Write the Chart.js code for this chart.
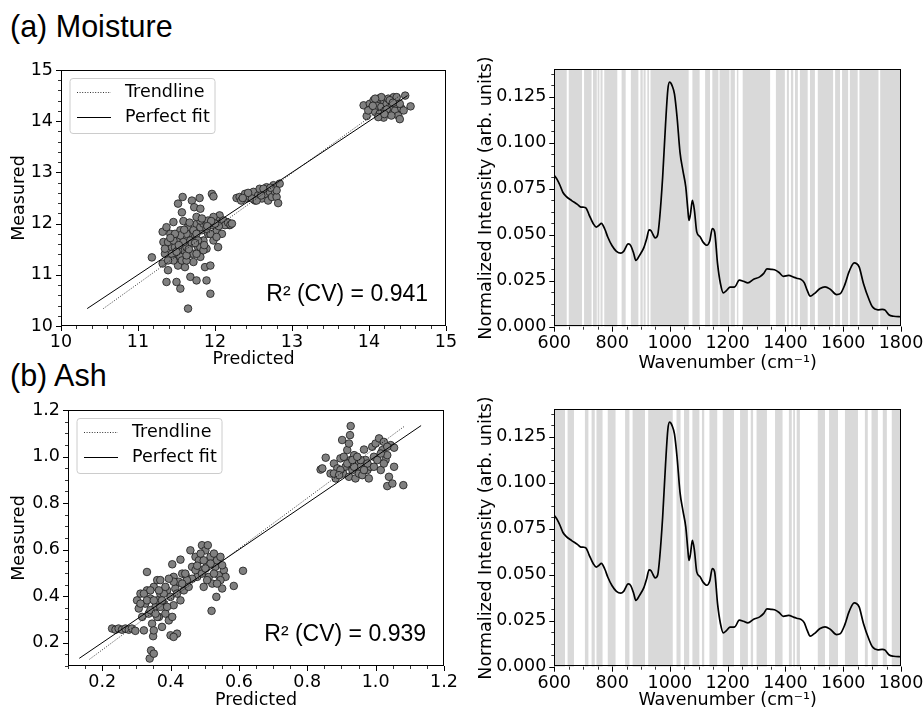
<!DOCTYPE html>
<html>
<head>
<meta charset="utf-8">
<script src="https://cdn.jsdelivr.net/npm/chart.js@4.4.1/dist/chart.umd.min.js"></script>
<style>
  body { margin: 0; background: #fff; width: 923px; height: 711px; position: relative; overflow: hidden; }
  .panel-title { position: absolute; font-family: "Liberation Sans", Arial, sans-serif; font-size: 30.5px; line-height: 1; color: #000; white-space: nowrap; }
  canvas { position: absolute; }
</style>
</head>
<body>
<div class="panel-title" style="left:10px; top:10.5px;">(a) Moisture</div>
<div class="panel-title" style="left:10px; top:360px;">(b) Ash</div>

<canvas id="scatterA" width="476" height="330" style="left:0px; top:40px;"></canvas>
<canvas id="spectrumA" width="471" height="335" style="left:460px; top:39px;"></canvas>
<canvas id="scatterB" width="474" height="331" style="left:0px; top:380px;"></canvas>
<canvas id="spectrumB" width="471" height="332" style="left:460px; top:379px;"></canvas>

<script>
// --- data ---

// (a) moisture: [predicted, measured]
const moisturePts = [
  [13.93,14.31],[13.97,14.10],[14.01,14.34],[14.03,14.24],[14.06,14.41],[14.08,14.18],[14.10,14.31],[14.12,14.44],
  [14.14,14.15],[14.16,14.28],[14.19,14.41],[14.19,14.07],[14.21,14.21],[14.23,14.34],[14.25,14.44],[14.27,14.15],
  [14.29,14.28],[14.32,14.47],[14.34,14.21],[14.36,14.34],[14.38,14.11],[14.40,14.04],[14.42,14.25],[14.45,14.21],
  [14.47,14.50],[14.54,14.29],[13.99,14.21],[14.12,14.08],[14.23,14.23],[14.29,14.11],[14.16,14.47],[14.27,14.41],
  [14.08,14.44],[14.36,14.47],[14.40,14.34],[14.05,14.30],[14.20,14.14],[14.31,14.36],
  [12.28,12.50],[12.32,12.52],[12.39,12.58],[12.41,12.49],[12.45,12.52],[12.50,12.62],[12.52,12.45],[12.56,12.55],
  [12.58,12.68],[12.61,12.49],[12.65,12.58],[12.67,12.71],[12.69,12.45],[12.71,12.62],[12.74,12.52],[12.76,12.75],
  [12.78,12.62],[12.80,12.52],[12.82,12.40],[12.84,12.78],[12.80,12.65],[12.48,12.49],[12.54,12.45],[12.63,12.68],
  [12.34,12.45],[12.43,12.60],[12.60,12.55],[12.72,12.70],[12.36,12.50],
  [11.18,11.34],[11.32,11.22],[11.32,11.84],[11.33,11.64],[11.35,11.41],[11.37,10.86],[11.39,11.09],[11.37,11.93],
  [11.42,11.80],[11.44,11.54],[11.46,12.03],[11.48,11.32],[11.50,10.86],[11.50,11.67],[11.52,11.18],[11.52,12.39],
  [11.55,10.73],[11.55,11.87],[11.57,12.22],[11.58,12.52],[11.58,11.48],[11.59,12.05],[11.61,11.15],[11.61,11.70],
  [11.63,11.54],[11.65,10.34],[11.65,11.93],[11.68,10.96],[11.68,11.41],[11.70,12.45],[11.70,11.80],[11.72,11.25],
  [11.73,12.32],[11.74,11.74],[11.76,10.89],[11.76,11.99],[11.78,11.54],[11.80,12.50],[11.81,12.29],[11.81,11.35],
  [11.83,11.87],[11.85,11.67],[11.87,12.05],[11.87,11.15],[11.89,10.89],[11.89,11.51],[11.91,11.80],[11.94,10.63],
  [11.94,11.18],[11.94,11.99],[11.96,12.58],[11.98,12.53],[11.98,11.67],[12.00,12.05],[12.02,11.87],[12.04,11.54],
  [12.06,12.16],[12.09,11.80],[12.11,11.99],[12.15,12.03],[12.19,11.97],
  [11.35,11.51],[11.39,11.64],[11.44,11.41],[11.48,11.54],[11.52,11.48],[11.55,11.35],[11.59,11.64],[11.63,11.80],
  [11.68,11.67],[11.72,11.87],[11.76,11.80],[11.81,11.93],[11.85,12.00],[11.89,12.00],[11.91,12.06],[11.96,11.97],
  [12.02,12.06],[12.06,12.00],[11.46,11.28],[11.57,11.28],[11.72,11.41],[11.81,11.54],[11.85,11.48],[11.46,11.67],
  [11.39,11.28],[11.63,11.28],[11.78,11.67],[11.94,11.80],[12.02,11.74],[11.63,11.38],[11.76,11.41],[11.70,11.61],
  [11.55,11.77],[11.48,11.80],[11.89,11.90],[11.81,12.06],[11.76,12.13],[11.83,12.10],[11.98,12.13],[12.11,12.06],
  [12.13,11.97],[12.17,12.02],[12.20,11.98],[12.22,12.00],[12.05,11.95],[12.00,12.00],[11.95,12.05],[11.90,11.95],
  [11.42,11.72],[11.50,11.45],[11.66,11.50],[11.74,11.62],[11.86,11.58],[11.53,11.58],[11.60,11.88],[11.67,12.02]
];
const moisturePerfect = [[10.34,10.34],[14.50,14.50]];
const moistureTrend = [[10.55,10.34],[14.40,14.50]];
const moistureTicks = [10, 11, 12, 13, 14, 15];
const moistureR2 = 'R² (CV) = 0.941';

// (b) ash: [predicted, measured]
const ashPts = [
  [0.839,0.944],[0.844,0.949],[0.854,0.995],[0.868,0.927],[0.878,0.970],[0.883,0.906],[0.888,0.949],[0.897,0.992],
  [0.902,1.071],[0.905,0.927],[0.912,0.956],[0.917,1.028],[0.922,1.056],[0.922,0.913],[0.925,1.092],[0.927,1.131],
  [0.927,0.985],[0.932,0.942],[0.937,1.006],[0.941,0.906],[0.946,0.970],[0.951,0.927],[0.956,0.956],[0.961,0.920],
  [0.966,1.030],[0.971,0.985],[0.976,0.942],[0.980,0.906],[0.985,0.956],[0.990,1.042],[0.995,0.999],[1.000,1.056],
  [1.005,0.985],[1.010,1.078],[1.015,0.942],[1.020,1.028],[1.024,1.063],[1.029,0.985],[1.034,1.006],[1.034,0.873],
  [1.039,0.913],[1.044,1.049],[1.049,0.884],[1.054,1.038],[1.054,0.956],[1.081,0.877],
  [0.878,0.927],[0.897,0.942],[0.917,0.970],[0.937,0.956],[0.956,0.985],[0.976,0.970],[0.995,0.956],[1.015,1.013],
  [1.024,0.970],[0.907,0.999],[0.932,0.985],[0.946,0.999],[0.893,0.920],[0.966,0.942],[1.034,1.042],
  [0.405,0.537],[0.429,0.557],[0.444,0.490],[0.458,0.597],[0.463,0.526],[0.473,0.569],[0.478,0.483],[0.483,0.554],
  [0.488,0.512],[0.492,0.619],[0.497,0.440],[0.502,0.597],[0.507,0.533],[0.509,0.619],[0.512,0.483],[0.517,0.569],
  [0.520,0.337],[0.522,0.454],[0.527,0.583],[0.531,0.526],[0.534,0.397],[0.536,0.554],[0.541,0.490],[0.546,0.569],
  [0.551,0.433],[0.556,0.512],[0.561,0.483],[0.585,0.444],[0.612,0.509],
  [0.497,0.554],[0.488,0.583],[0.473,0.512],[0.527,0.497],[0.507,0.469],[0.546,0.469],[0.536,0.454],[0.463,0.475],
  [0.478,0.531],[0.517,0.540],[0.492,0.497],[0.551,0.533],[0.502,0.519],
  [0.229,0.261],[0.239,0.256],[0.248,0.261],[0.258,0.256],[0.268,0.261],[0.278,0.256],[0.287,0.261],[0.297,0.251],
  [0.302,0.382],[0.307,0.347],[0.312,0.411],[0.317,0.311],[0.322,0.253],[0.326,0.368],[0.331,0.504],[0.331,0.425],
  [0.336,0.325],[0.339,0.132],[0.341,0.390],[0.343,0.167],[0.346,0.282],[0.349,0.228],[0.351,0.153],[0.351,0.440],
  [0.356,0.354],[0.361,0.469],[0.366,0.311],[0.370,0.411],[0.375,0.268],[0.380,0.368],[0.385,0.325],[0.390,0.425],
  [0.395,0.296],[0.400,0.397],[0.405,0.311],[0.409,0.361],[0.409,0.483],[0.414,0.433],[0.419,0.239],[0.424,0.462],
  [0.429,0.382],[0.434,0.497],[0.439,0.425],[0.448,0.469],[0.400,0.232],[0.409,0.225],[0.370,0.469],[0.361,0.311],
  [0.351,0.253],
  [0.322,0.411],[0.331,0.382],[0.341,0.340],[0.361,0.382],[0.370,0.354],[0.380,0.411],[0.390,0.354],[0.351,0.382],
  [0.366,0.425],[0.341,0.425],[0.312,0.368],[0.356,0.325],[0.375,0.382],[0.385,0.440],[0.419,0.411],[0.434,0.454],
  [0.443,0.497],[0.409,0.462],[0.395,0.475],[0.453,0.440]
];
const ashPerfect = [[0.133,0.133],[1.133,1.133]];
const ashTrend = [[0.163,0.129],[1.085,1.131]];
const ashTicks = [0.2, 0.4, 0.6, 0.8, 1.0, 1.2];
const ashR2 = 'R² (CV) = 0.939';

// mean spectrum (same in both rows)
const wavenumber = [600,610,620,630,640,660,680,690,700,710,720,735,745,755,763,775,785,800,815,830,840,856,865,875,882,895,
  910,920,928,935,942,949,958,965,975,985,993,999,1008,1016,1025,1035,1045,1055,1062,1066,1071,1078,1085,1093,1105,1115,
  1128,1138,1147,1155,1165,1175,1185,1195,1208,1225,1240,1255,1270,1290,1311,1325,1336,1350,1362,1378,1393,1411,1430,
  1443,1454,1465,1475,1486,1500,1520,1537,1555,1577,1590,1605,1620,1638,1655,1670,1690,1701,1720,1735,1745,1758,1775,1800];
const intensity = [0.0822,0.0800,0.0768,0.0730,0.0710,0.0686,0.0665,0.0652,0.0650,0.0645,0.0610,0.0560,0.0542,0.0552,0.0562,
  0.0530,0.0488,0.0440,0.0410,0.0400,0.0410,0.0450,0.0440,0.0397,0.0361,0.0388,0.0430,0.0480,0.0527,0.0522,0.0500,0.0483,
  0.0500,0.0596,0.0813,0.1100,0.1290,0.1330,0.1310,0.1265,0.1138,0.0950,0.0850,0.0760,0.0640,0.0578,0.0610,0.0687,0.0632,
  0.0516,0.0488,0.0460,0.0443,0.0466,0.0534,0.0515,0.0343,0.0235,0.0184,0.0195,0.0215,0.0217,0.0253,0.0247,0.0238,0.0258,
  0.0271,0.0290,0.0314,0.0312,0.0310,0.0295,0.0274,0.0279,0.0268,0.0262,0.0257,0.0240,0.0199,0.0166,0.0180,0.0208,0.0217,
  0.0204,0.0175,0.0180,0.0226,0.0298,0.0347,0.0325,0.0235,0.0145,0.0108,0.0092,0.0094,0.0090,0.0065,0.0057,0.0054];
const wnTicks = [600, 800, 1000, 1200, 1400, 1600, 1800];
const intensityTicks = [0, 0.025, 0.05, 0.075, 0.1, 0.125];

// unselected (white) windows between the grey selected variables
const gapsMoisture = [[643,650],[696,703],[729,734],[747,750],[756,760],[767,773],[818,833],[847,865],[891,898],[906,909],
  [916,922],[928,933],[1065,1078],[1103,1122],[1139,1147],[1168,1172],[1206,1210],[1225,1232],[1237,1252],[1347,1367],
  [1398,1405],[1412,1419],[1427,1433],[1443,1450],[1477,1485],[1502,1512],[1565,1572],[1589,1596],[1617,1623],[1650,1656],
  [1722,1728]];
const gapsAsh = [[637,646],[668,706],[718,729],[740,746],[767,785],[812,845],[860,871],[914,925],[1010,1023],[1037,1049],
  [1067,1078],[1102,1111],[1119,1137],[1164,1183],[1222,1243],[1270,1280],[1288,1300],[1336,1364],[1390,1412],[1422,1427],
  [1433,1439],[1450,1512],[1537,1551],[1582,1606],[1651,1675],[1685,1698],[1720,1737],[1751,1768]];

// ---------------------------------------------------------------

const DV = '"DejaVu Sans", sans-serif';
const LS = '"Liberation Sans", Arial, sans-serif';
const FS = 17.5;
Chart.defaults.color = '#000';
Chart.defaults.font.family = DV;
Chart.defaults.font.size = FS;

function toBands(gaps, lo, hi) {
  const out = [];
  let start = lo;
  gaps.forEach(g => { out.push([start, g[0]]); start = g[1]; });
  out.push([start, hi]);
  return out;
}

function minorsBetween(lo, hi, step) {
  const out = [];
  for (let v = lo; v <= hi + 1e-9; v += step) out.push(+v.toFixed(6));
  return out;
}

// frame, matplotlib-like ticks, shaded bands, legend and R² note
const decor = {
  id: 'decor',
  beforeDatasetsDraw(chart, args, o) {
    if (!o.bands) return;
    const { ctx, chartArea: a, scales: { x } } = chart;
    ctx.save();
    ctx.fillStyle = '#d9d9d9';
    o.bands.forEach(([lo, hi]) => {
      const x0 = x.getPixelForValue(lo), x1 = x.getPixelForValue(hi);
      ctx.fillRect(x0, a.top, x1 - x0, a.bottom - a.top);
    });
    ctx.restore();
  },
  afterDraw(chart, args, o) {
    const { ctx, chartArea: a, scales: { x, y } } = chart;
    ctx.save();
    ctx.strokeStyle = '#000';
    ctx.lineWidth = 1;
    ctx.strokeRect(Math.round(a.left) + 0.5, Math.round(a.top) + 0.5,
      Math.round(a.right - a.left) - 1, Math.round(a.bottom - a.top) - 1);

    const drawX = (vals, len, w) => {
      ctx.lineWidth = w;
      vals.forEach(v => {
        if (v < x.min - 1e-9 || v > x.max + 1e-9) return;
        const px = Math.round(x.getPixelForValue(v)) + 0.5;
        ctx.beginPath(); ctx.moveTo(px, a.bottom); ctx.lineTo(px, a.bottom + len); ctx.stroke();
      });
    };
    const drawY = (vals, len, w) => {
      ctx.lineWidth = w;
      vals.forEach(v => {
        if (v < y.min - 1e-9 || v > y.max + 1e-9) return;
        const py = Math.round(y.getPixelForValue(v)) + 0.5;
        ctx.beginPath(); ctx.moveTo(a.left, py); ctx.lineTo(a.left - len, py); ctx.stroke();
      });
    };
    drawX(o.minorX, 3, 0.8);
    drawY(o.minorY, 3, 0.8);
    drawX(x.ticks.map(t => t.value), 5, 1);
    drawY(y.ticks.map(t => t.value), 5, 1);

    if (o.legend) {
      const bx = a.left + 9, by = a.top + 8.5, bw = 145, bh = 55;
      ctx.beginPath();
      ctx.roundRect(bx, by, bw, bh, 3);
      ctx.fillStyle = 'rgba(255,255,255,0.85)';
      ctx.fill();
      ctx.strokeStyle = '#cccccc';
      ctx.lineWidth = 1;
      ctx.stroke();
      const rows = [{ label: 'Trendline', dash: [1, 1.6] }, { label: 'Perfect fit', dash: [] }];
      ctx.font = FS + 'px ' + DV;
      ctx.textBaseline = 'middle';
      ctx.textAlign = 'left';
      rows.forEach((r, i) => {
        const ly = by + 14 + i * 25;
        ctx.strokeStyle = '#000';
        ctx.lineWidth = r.dash.length ? 0.8 : 1;
        ctx.setLineDash(r.dash);
        ctx.beginPath(); ctx.moveTo(bx + 7, ly); ctx.lineTo(bx + 41, ly); ctx.stroke();
        ctx.setLineDash([]);
        ctx.fillStyle = '#000';
        ctx.fillText(r.label, bx + 55, ly);
      });
    }
    if (o.note) {
      ctx.font = '23px ' + LS;
      ctx.fillStyle = '#000';
      ctx.textAlign = 'right';
      ctx.textBaseline = 'alphabetic';
      ctx.fillText(o.note, a.right - 18, a.bottom - 25);
    }
    ctx.restore();
  }
};

function axis(ticks, min, max, digits, size, title, isX, pad) {
  return {
    type: 'linear',
    min: min,
    max: max,
    grid: { display: false, drawTicks: false, tickLength: 0 },
    border: { display: false },
    afterBuildTicks: s => { s.ticks = ticks.map(v => ({ value: v })); },
    afterFit: s => { if (isX) s.height = size; else s.width = size; },
    ticks: {
      padding: pad,
      font: { size: FS, family: DV },
      callback: v => v.toFixed(digits)
    },
    title: { display: true, text: title, padding: 0, font: { size: FS, family: DV } }
  };
}

function scatterChart(id, pts, trend, perfect, ticks, range, digits, minorStep, note, lay) {
  return new Chart(document.getElementById(id), {
    type: 'scatter',
    data: {
      datasets: [
        { data: trend.map(p => ({ x: p[0], y: p[1] })), showLine: true, borderColor: '#000', borderWidth: 0.8,
          borderDash: [1, 1.6], pointRadius: 0 },
        { data: perfect.map(p => ({ x: p[0], y: p[1] })), showLine: true, borderColor: '#000', borderWidth: 1,
          pointRadius: 0 },
        { data: pts.map(p => ({ x: p[0], y: p[1] })), pointRadius: 3.8, pointBackgroundColor: '#808080',
          pointBorderColor: '#1a1a1a', pointBorderWidth: 0.8 }
      ]
    },
    options: {
      responsive: false,
      animation: false,
      events: [],
      layout: { padding: lay.padding },
      plugins: {
        legend: { display: false },
        tooltip: { enabled: false },
        decor: {
          minorX: minorsBetween(range[0], range[1], minorStep),
          minorY: minorsBetween(range[0], range[1], minorStep),
          legend: true,
          note: note
        }
      },
      scales: {
        x: axis(ticks, range[0], range[1], digits, lay.xh, 'Predicted', true, 6),
        y: axis(ticks, range[0], range[1], digits, lay.yw, 'Measured', false, 8)
      }
    },
    plugins: [decor]
  });
}

function spectrumChart(id, gaps, lay) {
  return new Chart(document.getElementById(id), {
    type: 'line',
    data: {
      datasets: [{
        data: wavenumber.map((w, i) => ({ x: w, y: intensity[i] })),
        borderColor: '#000', borderWidth: 1.7, pointRadius: 0,
        cubicInterpolationMode: 'monotone', fill: false
      }]
    },
    options: {
      responsive: false,
      animation: false,
      events: [],
      layout: { padding: lay.padding },
      plugins: {
        legend: { display: false },
        tooltip: { enabled: false },
        decor: {
          bands: toBands(gaps, 600, 1800),
          minorX: minorsBetween(600, 1800, 50),
          minorY: minorsBetween(0, 0.14, 0.00625),
          legend: false
        }
      },
      scales: {
        x: axis(wnTicks, 600, 1800, 0, lay.xh, 'Wavenumber (cm⁻¹)', true, 6),
        y: axis(intensityTicks, 0, 0.14, 3, lay.yw, 'Normalized Intensity (arb. units)', false, 8)
      }
    },
    plugins: [decor]
  });
}

// right/top padding kept larger than Chart.js' own label overflow so the plot box lands where intended
scatterChart('scatterA', moisturePts, moistureTrend, moisturePerfect, moistureTicks, [10, 15], 0, 0.2, moistureR2,
  { padding: { left: 9, top: 30, right: 30, bottom: 0 }, yw: 52, xh: 44 });
scatterChart('scatterB', ashPts, ashTrend, ashPerfect, ashTicks, [0.1, 1.2], 1, 0.05, ashR2,
  { padding: { left: 9, top: 30, right: 30, bottom: 0 }, yw: 59, xh: 45 });
spectrumChart('spectrumA', gapsMoisture,
  { padding: { left: 16, top: 30.3, right: 30, bottom: 0 }, yw: 78.3, xh: 47.3 });
spectrumChart('spectrumB', gapsAsh,
  { padding: { left: 16, top: 30.3, right: 30, bottom: 0 }, yw: 78.3, xh: 44.3 });
</script>
</body>
</html>
